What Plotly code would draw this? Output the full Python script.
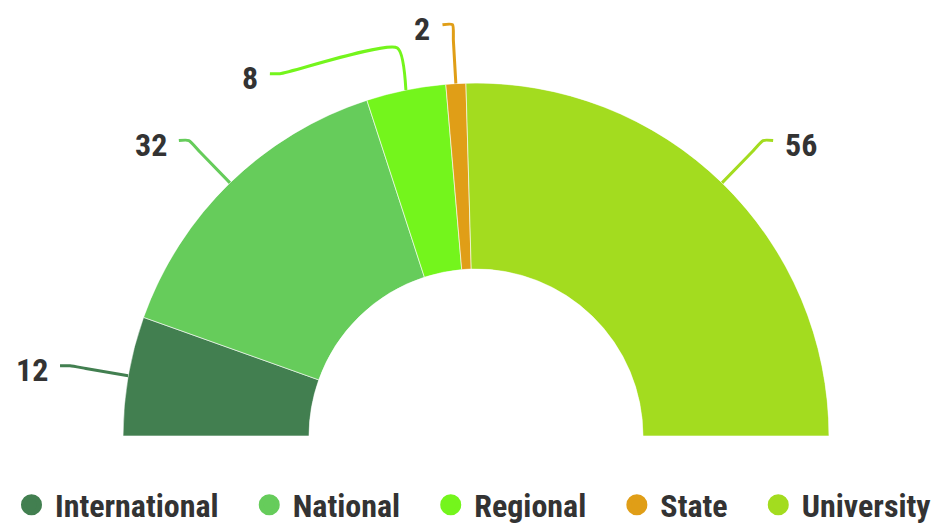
import math
import plotly.graph_objects as go

# ---------------- data ----------------
categories = ["International", "National", "Regional", "State", "University"]
values = [12, 32, 8, 2, 56]
colors = ["#427F50", "#66CC5B", "#74F51C", "#E09E17", "#A3DC1F"]

# ---------------- layout constants ----------------
W, H = 932, 526
CX, CY = 476, 436          # pixel centre of the half donut
R_OUT = 353                # outer radius (px)
HOLE = 0.473
R_KNEE = R_OUT + 43        # radial knee of leader lines
R_LABEL = 412              # circle on which label lines end
GAP = 49                   # min vertical gap between labels
HOOK = 10
TXT_GAP = 10
TEXT = "#333333"
FONT = "Roboto Condensed, Roboto, sans-serif"

total = sum(values)
widths = [v / total * 180.0 for v in values]
starts, acc = [], 0.0
for w in widths:
    starts.append(acc)
    acc += w
mids = [s + w / 2 for s, w in zip(starts, widths)]

fig = go.Figure()

# half-donut slices
for cat, val, col, mid, w in zip(categories, values, colors, mids, widths):
    fig.add_trace(go.Barpolar(
        r=[1], theta=[mid], width=[w], base=0,
        marker=dict(color=col, line=dict(color="white", width=0.6)),
        name=cat, showlegend=False,
        hovertemplate=f"{cat}: {val}<extra></extra>",
    ))

# ---------------- label placement ----------------
info = []
for i, (val, mid) in enumerate(zip(values, mids)):
    phi = math.radians(180 - mid)
    side = -1 if math.cos(phi) < 0 else 1
    info.append(dict(i=i, phi=phi, side=side, y=CY - R_LABEL * math.sin(phi)))

for side in (-1, 1):
    grp = sorted([d for d in info if d["side"] == side], key=lambda d: d["y"])
    prev = None
    for d in grp:
        if prev is not None and d["y"] < prev + GAP:
            d["y"] = prev + GAP
        prev = d["y"]

annotations = []
for d in info:
    i, phi, side = d["i"], d["phi"], d["side"]
    col = colors[i]
    p0 = (CX + R_OUT * math.cos(phi), CY - R_OUT * math.sin(phi))
    k = (CX + R_KNEE * math.cos(phi), CY - R_KNEE * math.sin(phi))
    by = d["y"]
    bx = CX + side * math.sqrt(max(R_LABEL ** 2 - (CY - by) ** 2, 0))
    lx = bx + side * HOOK
    fig.add_trace(go.Scatter(
        x=[p0[0], k[0], bx, lx], y=[p0[1], k[1], by, by],
        mode="lines", line=dict(color=col, width=3, shape="spline", smoothing=0.6),
        showlegend=False, hoverinfo="skip", xaxis="x", yaxis="y",
    ))
    annotations.append(dict(
        x=lx + side * TXT_GAP, y=by + 4, xref="x", yref="y",
        text=str(values[i]), showarrow=False,
        xanchor="right" if side < 0 else "left", yanchor="middle",
        font=dict(family=FONT, size=32, color=TEXT, weight="bold"),
    ))

# legend entries (circle markers)
for n, (cat, col) in enumerate(zip(categories, colors)):
    pad = "\u00a0" * 3 if n < len(categories) - 1 else ""
    fig.add_trace(go.Scatter(
        x=[None], y=[None], mode="markers",
        marker=dict(symbol="circle", size=23, color=col,
                    line=dict(color=col, width=6)),
        name=cat + pad, showlegend=True, hoverinfo="skip",
    ))

fig.update_layout(
    width=W, height=H,
    margin=dict(l=0, r=0, t=0, b=0, pad=0, autoexpand=False),
    paper_bgcolor="white", plot_bgcolor="rgba(0,0,0,0)",
    template="none",
    hovermode="closest",
    xaxis=dict(range=[0, W], visible=False, domain=[0, 1], fixedrange=True),
    yaxis=dict(range=[H, 0], visible=False, domain=[0, 1], fixedrange=True),
    polar=dict(
        domain=dict(x=[(CX - R_OUT) / W, (CX + R_OUT) / W],
                    y=[(H - CY) / H, (H - CY + R_OUT) / H]),
        sector=[0, 180], hole=HOLE, bgcolor="rgba(0,0,0,0)", bargap=0,
        radialaxis=dict(visible=False, range=[0, 1], showgrid=False),
        angularaxis=dict(visible=False, direction="clockwise", rotation=180,
                         showgrid=False, showline=False),
    ),
    showlegend=True,
    legend=dict(
        orientation="h", x=8 / W, xanchor="left", y=0.04, yanchor="middle",
        font=dict(family=FONT, size=32, color=TEXT, weight="bold"),
        itemsizing="trace", itemwidth=37, bgcolor="rgba(0,0,0,0)",
        itemclick=False, itemdoubleclick=False,
    ),
    annotations=annotations,
)

fig.write_html("out.html", config={"displayModeBar": False},
               post_script="document.body.style.margin='0px';")
